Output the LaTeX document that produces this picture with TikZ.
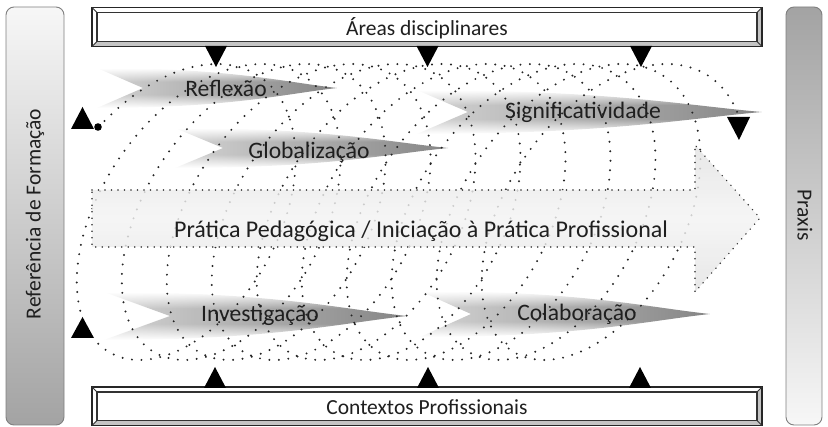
\documentclass[tikz,border=0pt]{standalone}
\usepackage{fontspec}
\setmainfont{Carlito}
\usetikzlibrary{fadings}
\tikzfading[name=fadeleft, left color=transparent!65, middle color=transparent!10, right color=transparent!0]
\definecolor{barline}{HTML}{7F7F7F}
\definecolor{bardark}{HTML}{A3A3A3}
\definecolor{barlight}{HTML}{F7F7F7}
\definecolor{framegray}{HTML}{C4C4C4}
\definecolor{arrowfill}{HTML}{E2E2E2}
\definecolor{swoosh}{HTML}{858585}
\pgfdeclareverticalshading{swooshshade}{100bp}{color(0bp)=(white); color(25bp)=(white); color(42bp)=(swoosh); color(58bp)=(swoosh); color(75bp)=(white); color(100bp)=(white)}
\pgfdeclareverticalshading{bigshade}{100bp}{color(0bp)=(arrowfill); color(25bp)=(arrowfill); color(50bp)=(white!60!arrowfill); color(75bp)=(arrowfill); color(100bp)=(arrowfill)}
\newcommand\swooshshape[5]{%
  \pgfmathsetmacro\sL{#5-#1}%
  \shade[shading=swooshshade, path fading=fadeleft]
    (#1,{#2-#3}) .. controls ({#1+0.55*\sL},{#2-#3}) and ({#5-0.22*\sL},{#2-0.3*#3}) .. (#5,#2)
    .. controls ({#5-0.22*\sL},{#2+0.3*#3}) and ({#1+0.55*\sL},{#2+#3}) .. (#1,{#2+#3})
    -- (#4,#2) -- cycle;}
\begin{document}
\begin{tikzpicture}[x=1pt,y=-1pt,
  lbl/.style={font=\fontsize{21.5}{24}\selectfont, text=black!88, inner sep=0pt},
  slbl/.style={font=\fontsize{23.6}{26}\selectfont, text=black!88, inner sep=0pt},
  plbl/.style={font=\fontsize{24}{27}\selectfont, text=black!88, inner sep=0pt},
  loopdots/.style={line width=2.2pt, line cap=round, dash pattern=on 0pt off 9.5pt, black!85},
  bigdots/.style={line width=1.6pt, line cap=round, dash pattern=on 0pt off 6.5pt, black!80},
  marker/.style={fill=black}
]
\useasboundingbox (0,0) rectangle (828,427);

% side bars
\shade[top color=barlight, bottom color=bardark, draw=barline, line width=0.9pt, rounded corners=8pt]
  (6,7) rectangle (64,425);
\shade[top color=bardark, bottom color=barlight, draw=barline, line width=0.9pt, rounded corners=8pt]
  (786,7) rectangle (822,425);
\node[lbl, rotate=90] (ref) at (35,214) {Referência de Formação};
\node[lbl, rotate=-90] (praxis) at (805,215) {Praxis};

% framed boxes
\foreach \ya/\yb in {7.5/46.5, 387/425.5}{
  \fill[white] (92,\ya) rectangle (762,\yb);
  \fill[framegray] (92,\yb) -- (97,\yb-5) -- (757,\yb-5) -- (757,\ya+5) -- (762,\ya) -- (762,\yb) -- cycle;
  \draw[black!85, line width=1.8pt] (92,\ya) rectangle (762,\yb);
  \draw[black!80, line width=1.3pt] (97,\ya+5) rectangle (757,\yb-5);
  \draw[black!80, line width=0.8pt] (92,\ya) -- (97,\ya+5) (762,\ya) -- (757,\ya+5)
     (92,\yb) -- (97,\yb-5) (762,\yb) -- (757,\yb-5);
}
\node[lbl] (areas) at (427,28) {Áreas disciplinares};
\node[lbl] (contextos) at (427,407) {Contextos Profissionais};

% swoosh arrows
\swooshshape{97}{88}{20}{143}{337}
\swooshshape{175}{148}{20}{223}{448}
\swooshshape{417}{112}{22}{468}{762}
\swooshshape{104}{316}{24}{170}{407}
\swooshshape{420}{314}{23}{471}{710}

% coil
\draw[loopdots] plot[domain=0.604:65.277, samples=1100]
  ({155.5 + 7.16*\x - 109.6*cos(\x r) + 50*sin(\x r)}, {212 - 148*sin(\x r)});

% big arrow
\shade[shading=bigshade, fill opacity=0.82]
  (92,190) -- (695,190) -- (695,145) -- (760,218) -- (695,292) -- (695,247) -- (92,247) -- cycle;
\draw[bigdots]
  (92,190) -- (695,190) -- (695,145) -- (760,218) -- (695,292) -- (695,247) -- (92,247) -- cycle;

% labels on arrows
\node[slbl] (reflexao) at (226,88) {Reflexão};
\node[slbl] (global) at (309,152) {Globalização};
\node[slbl] (signif) at (583,112) {Significatividade};
\node[slbl] (invest) at (260,315) {Investigação};
\node[slbl] (colab) at (577,314) {Colaboração};
\node[plbl] (pratica) at (421,231) {Prática Pedagógica / Iniciação à Prática Profissional};

% markers
\foreach \x in {216,427.5,641}{
  \fill[marker] (\x-11,46) -- (\x+11,46) -- (\x,67) -- cycle;
}
\foreach \x in {215,428,640}{
  \fill[marker] (\x-11,388) -- (\x+11,388) -- (\x,367) -- cycle;
}
\fill[marker] (71,129) -- (94,129) -- (82.5,107) -- cycle;
\fill[marker] (98,127) circle (3.8);
\fill[marker] (71,338) -- (94,338) -- (82.5,317) -- cycle;
\fill[marker] (727,117) -- (750,117) -- (739,140) -- cycle;
\end{tikzpicture}
\end{document}
